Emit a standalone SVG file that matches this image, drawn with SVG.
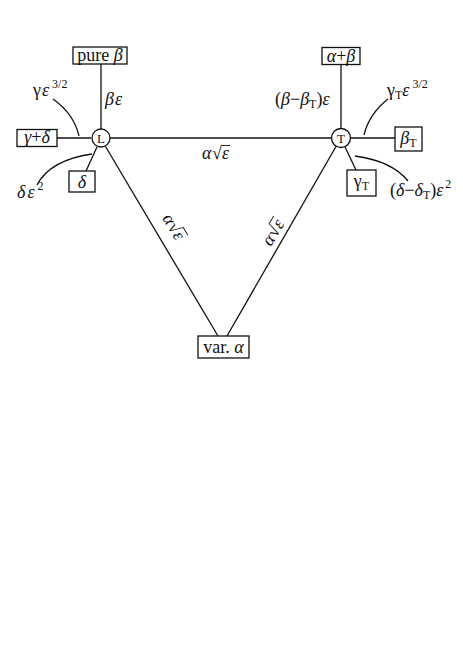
<svg xmlns="http://www.w3.org/2000/svg" width="463" height="655" viewBox="0 0 463 655">
<style>
.ln{stroke:#111;stroke-width:1.3;fill:none}
.ov{stroke:#111;stroke-width:0.9;fill:none}
.bx{stroke:#111;stroke-width:1.3;fill:#fff}
.nd{stroke:#111;stroke-width:1.3;fill:#fff}
text{font-family:"Liberation Serif","DejaVu Serif",serif;font-size:18px;fill:#111}
.i{font-style:italic}
.sm{font-size:12px}
.nl{font-size:13px}
.c{text-anchor:middle}
</style>
<rect width="463" height="655" fill="#fff"/>
<g id="connectors">
<line class="ln" x1="101" y1="64" x2="101" y2="129"/>
<line class="ln" x1="57" y1="138" x2="91" y2="138"/>
<line class="ln" x1="97" y1="147" x2="86" y2="171"/>
<line class="ln" x1="110" y1="138" x2="331.5" y2="138"/>
<line class="ln" x1="105.5" y1="146.5" x2="218" y2="336"/>
<line class="ln" x1="336" y1="146.5" x2="227" y2="336"/>
<line class="ln" x1="341" y1="65" x2="341" y2="128.5"/>
<line class="ln" x1="350.5" y1="138" x2="395" y2="138"/>
<line class="ln" x1="345" y1="147" x2="356" y2="170"/>
<path class="ln" d="M53,99 Q74,114 79,136"/>
<path class="ln" d="M37,185 Q50,160 92,154"/>
<path class="ln" d="M388,99 Q369,114 364,135"/>
<path class="ln" d="M355,156 Q392,161 408,181"/>
</g>
<g id="node-L"><circle class="nd" cx="101" cy="138" r="9"/><text class="c nl" x="101" y="142.5">L</text></g>
<g id="node-T"><circle class="nd" cx="341" cy="138" r="9.5"/><text class="c nl" x="341" y="142.5">T</text></g>
<g id="node-pure-beta"><rect class="bx" x="73" y="47" width="54" height="17"/><text class="c" x="100" y="61">pure <tspan class="i">β</tspan></text></g>
<g id="node-gamma-delta"><rect class="bx" x="17" y="129.5" width="40" height="17"/><text class="c" x="37" y="143"><tspan class="i">γ</tspan>+<tspan class="i">δ</tspan></text></g>
<g id="node-delta"><rect class="bx" x="69" y="171" width="26" height="21"/><text class="c i" x="82" y="187.5">δ</text></g>
<g id="node-alpha-beta"><rect class="bx" x="322" y="47.5" width="38" height="17"/><text class="c" x="341" y="61.5"><tspan class="i">α</tspan>+<tspan class="i">β</tspan></text></g>
<g id="node-beta-T"><rect class="bx" x="395" y="127" width="27" height="24"/><text class="c" x="408.5" y="144"><tspan class="i">β</tspan><tspan class="sm" dy="3">T</tspan></text></g>
<g id="node-gamma-T"><rect class="bx" x="347" y="170" width="29" height="26"/><text class="c" x="361.5" y="187">γ<tspan class="sm" dy="3">T</tspan></text></g>
<g id="node-var-alpha"><rect class="bx" x="198" y="336" width="51" height="22"/><text class="c" x="223.5" y="353">var. <tspan class="i">α</tspan></text></g>
<g id="labels">
<text class="i" x="105" y="105">β<tspan dx="1">ε</tspan></text>
<text x="33" y="96">γ<tspan class="i" dx="1">ε</tspan><tspan class="sm" dx="3" dy="-8">3/2</tspan></text>
<text x="17" y="198"><tspan class="i">δ</tspan><tspan class="i" dx="2">ε</tspan><tspan class="sm" dx="3" dy="-8">2</tspan></text>
<text x="275" y="105">(<tspan class="i">β</tspan>−<tspan class="i">β</tspan><tspan class="sm" dy="3">T</tspan><tspan dy="-3">)</tspan><tspan class="i">ε</tspan></text>
<text x="387" y="96">γ<tspan class="sm" dy="3">T</tspan><tspan class="i" dy="-3">ε</tspan><tspan class="sm" dx="3" dy="-8">3/2</tspan></text>
<text x="390" y="196">(<tspan class="i">δ</tspan>−<tspan class="i">δ</tspan><tspan class="sm" dy="3">T</tspan><tspan dy="-3">)</tspan><tspan class="i">ε</tspan><tspan class="sm" dx="2" dy="-8">2</tspan></text>
<g transform="translate(202,159)"><text><tspan class="i" x="0">α</tspan><tspan x="10">√</tspan><tspan class="i" x="20">ε</tspan></text><line class="ov" x1="19.5" y1="-13.5" x2="28" y2="-13.5"/></g>
<g transform="translate(162,218) rotate(59.5)"><text><tspan class="i" x="0">α</tspan><tspan x="10">√</tspan><tspan class="i" x="20">ε</tspan></text><line class="ov" x1="19.5" y1="-13.5" x2="28" y2="-13.5"/></g>
<g transform="translate(271,247) rotate(-59.3)"><text><tspan class="i" x="0">α</tspan><tspan x="10">√</tspan><tspan class="i" x="20">ε</tspan></text><line class="ov" x1="19.5" y1="-13.5" x2="28" y2="-13.5"/></g>
</g>
</svg>
